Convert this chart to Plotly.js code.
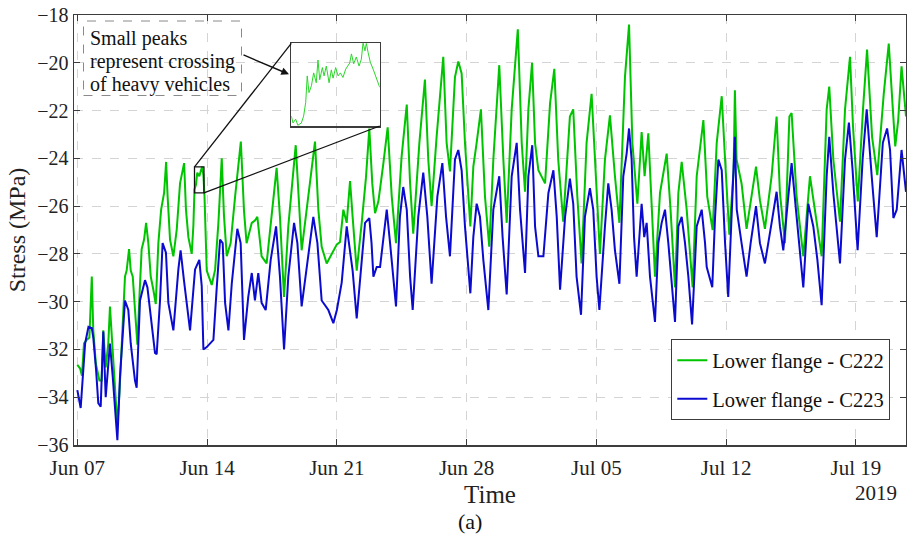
<!DOCTYPE html>
<html>
<head>
<meta charset="utf-8">
<script src="https://cdn.plot.ly/plotly-3.0.1.min.js"></script>
<style>
  html, body { margin: 0; padding: 0; background: #ffffff; }
  #chart { width: 907px; height: 536px; }
</style>
</head>
<body>
<div id="chart"></div>
<script>
// Time is stored as days elapsed since 2019-06-07 00:00.
const startDate = Date.UTC(2019, 5, 7);

// Lower flange - C222 (green)
const c222Day = [
  0.00, 0.15, 0.25, 0.36, 0.50, 0.65, 0.78, 0.86, 1.00, 1.19, 1.31, 1.40, 1.53, 1.67, 1.76, 1.91,
  2.03, 2.16, 2.27, 2.43, 2.57, 2.66, 2.79, 2.88, 2.99, 3.11, 3.24, 3.35, 3.47, 3.60, 3.71, 3.83,
  3.96, 4.10, 4.23, 4.37, 4.52, 4.68, 4.79, 4.87, 5.00, 5.18, 5.36, 5.54, 5.76, 5.86, 5.99, 6.17,
  6.26, 6.32, 6.40, 6.47, 6.58, 6.67, 6.73, 6.80, 6.86, 6.98, 7.25, 7.43, 7.61, 7.79, 7.91, 8.06,
  8.27, 8.51, 8.82, 8.99, 9.13, 9.41, 9.58, 9.71, 9.94, 10.21, 10.48, 10.75, 10.93, 11.15, 11.38, 11.78,
  11.96, 12.10, 12.37, 12.82, 13.00, 13.18, 13.45, 13.81, 14.00, 14.17, 14.35, 14.53, 14.71, 14.85, 15.07, 15.34,
  15.57, 15.75, 15.91, 16.06, 16.24, 16.51, 16.74, 16.96, 17.19, 17.49, 17.77, 17.95, 18.12, 18.45, 18.75, 18.93,
  19.11, 19.38, 19.74, 19.92, 20.10, 20.37, 20.55, 20.73, 20.91, 21.20, 21.36, 21.54, 21.77, 21.99, 22.22, 22.44,
  22.76, 22.98, 23.16, 23.43, 23.76, 23.97, 24.15, 24.33, 24.53, 24.69, 24.87, 25.23, 25.50, 25.73, 25.94, 26.21,
  26.57, 26.75, 26.97, 27.20, 27.47, 27.74, 27.92, 28.19, 28.46, 28.73, 29.00, 29.24, 29.54, 29.76, 29.94, 30.21,
  30.44, 30.60, 30.80, 30.98, 31.16, 31.43, 31.79, 32.00, 32.24, 32.42, 32.60, 32.87, 33.19, 33.41, 33.77, 33.98,
  34.27, 34.49, 34.76, 34.94, 35.17, 35.40, 35.47, 35.56, 35.83, 36.10, 36.37, 36.61, 36.82, 37.09, 37.45, 37.72,
  37.90, 38.17, 38.41, 38.53, 38.80, 39.16, 39.52, 39.79, 40.15, 40.42, 40.56, 40.78, 41.14, 41.41, 41.68, 41.84,
  42.10, 42.38, 42.60, 42.87, 43.15, 43.50, 43.77, 43.99, 44.12, 44.28, 44.46, 44.70
];
const c222Stress = [
  -32.65, -32.8, -33.1, -31.75, -31.6, -31.5, -28.95, -31.2, -32.6, -33.3, -33.3, -31.2, -32.75, -31.75, -30.2, -32.2,
  -33.85, -35.2, -33.85, -30.9, -28.95, -28.7, -27.8, -28.7, -28.95, -30.35, -31.8, -29.8, -27.8, -27.4, -26.7, -27.55,
  -28.95, -29.5, -30.1, -27.55, -26.15, -25.45, -24.15, -25.6, -27.4, -28.1, -27.0, -25.05, -24.2, -26.15, -27.3, -28.0,
  -26.8, -25.3, -25.1, -24.6, -24.75, -24.5, -24.35, -24.7, -25.6, -28.7, -29.3, -28.67, -26.7, -24.0, -26.4, -28.1,
  -27.55, -25.6, -23.3, -26.2, -27.55, -26.7, -26.6, -26.45, -28.1, -28.4, -26.45, -24.4, -26.45, -29.8, -26.85, -23.45,
  -25.9, -27.85, -26.15, -23.3, -26.15, -27.7, -28.4, -27.85, -27.6, -27.5, -26.15, -26.7, -24.95, -26.45, -28.7, -26.7,
  -24.8, -22.75, -25.05, -26.3, -25.8, -24.2, -22.7, -25.6, -27.55, -23.95, -21.75, -25.05, -27.15, -23.35, -20.7, -24.05,
  -26.0, -23.1, -19.75, -23.35, -24.55, -20.6, -19.95, -20.45, -23.35, -26.85, -24.35, -23.35, -21.95, -25.6, -27.7, -24.05,
  -20.1, -24.05, -26.7, -21.95, -18.6, -23.35, -25.4, -21.95, -20.0, -23.35, -24.5, -25.05, -21.7, -20.25, -24.05, -26.65,
  -22.25, -21.95, -25.6, -28.4, -23.35, -21.3, -24.05, -28.0, -24.05, -22.2, -24.75, -26.7, -20.6, -18.4, -23.35, -25.9,
  -22.9, -24.75, -22.95, -26.15, -28.95, -25.45, -23.8, -26.15, -29.4, -25.45, -24.15, -26.15, -29.4, -24.75, -22.4, -25.6,
  -27.0, -23.35, -21.4, -24.05, -27.2, -24.5, -21.15, -24.05, -25.05, -26.95, -25.6, -24.35, -25.75, -26.95, -24.75, -22.25,
  -25.45, -27.55, -22.25, -22.1, -25.6, -28.1, -24.75, -26.15, -28.1, -21.95, -21.0, -24.05, -26.65, -21.95, -19.75, -22.65,
  -25.8, -21.95, -19.45, -23.1, -24.7, -21.3, -19.2, -21.95, -23.5, -22.4, -20.15, -22.25
];

// Lower flange - C223 (blue)
const c223Day = [
  0.00, 0.18, 0.42, 0.60, 0.78, 0.86, 1.01, 1.13, 1.26, 1.40, 1.53, 1.76, 1.91, 2.03, 2.16, 2.30,
  2.57, 2.75, 2.88, 3.11, 3.20, 3.38, 3.65, 3.78, 3.96, 4.19, 4.28, 4.46, 4.60, 4.78, 4.91, 5.18,
  5.45, 5.57, 5.75, 6.08, 6.35, 6.58, 6.71, 6.80, 6.98, 7.34, 7.52, 7.70, 7.84, 7.97, 8.15, 8.33,
  8.63, 8.81, 8.99, 9.22, 9.41, 9.58, 9.76, 9.94, 10.16, 10.43, 10.72, 10.93, 11.15, 11.38, 11.69, 11.87,
  12.10, 12.37, 12.73, 12.95, 13.18, 13.54, 13.81, 14.00, 14.26, 14.53, 14.71, 14.85, 15.07, 15.28, 15.52, 15.75,
  15.87, 15.97, 16.15, 16.33, 16.51, 16.69, 16.87, 17.19, 17.40, 17.58, 17.77, 17.95, 18.09, 18.39, 18.66, 18.88,
  19.11, 19.42, 19.69, 19.89, 20.10, 20.37, 20.55, 20.73, 20.91, 21.20, 21.36, 21.54, 21.72, 21.90, 22.17, 22.44,
  22.76, 22.94, 23.16, 23.43, 23.70, 23.88, 24.15, 24.33, 24.54, 24.69, 24.87, 25.14, 25.41, 25.68, 25.86, 26.04,
  26.31, 26.57, 26.75, 26.93, 27.17, 27.38, 27.65, 27.83, 28.01, 28.16, 28.46, 28.64, 28.82, 29.00, 29.24, 29.45,
  29.63, 29.76, 29.90, 30.03, 30.17, 30.44, 30.58, 30.71, 30.89, 31.16, 31.34, 31.52, 31.70, 31.88, 32.24, 32.42,
  32.60, 32.78, 32.96, 33.16, 33.41, 33.68, 33.86, 33.95, 34.25, 34.40, 34.58, 34.76, 34.94, 35.11, 35.47, 35.57,
  35.83, 36.10, 36.32, 36.61, 36.82, 37.09, 37.45, 37.72, 37.90, 38.08, 38.35, 38.53, 38.80, 39.16, 39.43, 39.70,
  39.92, 40.15, 40.42, 40.56, 40.78, 41.14, 41.41, 41.62, 41.82, 42.09, 42.36, 42.58, 42.85, 43.12, 43.45, 43.68,
  43.84, 44.02, 44.20, 44.46, 44.70
];
const c223Stress = [
  -33.7, -34.45, -31.75, -31.05, -31.1, -31.5, -32.85, -34.25, -34.4, -31.25, -34.0, -31.75, -33.15, -34.55, -35.8, -33.15,
  -29.95, -30.35, -31.75, -33.3, -33.6, -29.95, -29.1, -29.4, -30.65, -32.15, -32.2, -29.95, -27.55, -27.95, -30.05, -31.2,
  -28.65, -27.85, -29.1, -31.2, -28.65, -28.25, -29.35, -32.0, -31.9, -31.6, -29.4, -27.4, -27.55, -30.05, -31.2, -29.25,
  -26.95, -27.55, -31.6, -29.8, -28.8, -29.95, -28.8, -30.05, -30.35, -28.25, -26.85, -28.95, -32.0, -28.95, -26.7, -27.55,
  -30.2, -28.55, -26.45, -27.55, -29.95, -30.35, -30.9, -30.35, -29.2, -26.85, -27.85, -28.7, -30.7, -28.95, -26.7, -26.5,
  -27.55, -28.95, -28.55, -28.55, -27.3, -26.15, -27.55, -30.2, -26.45, -25.2, -26.15, -28.95, -30.35, -26.45, -24.6, -26.45,
  -29.25, -25.6, -24.2, -26.45, -28.1, -24.05, -23.65, -24.5, -26.85, -29.65, -27.3, -25.9, -26.45, -28.25, -30.35, -26.15,
  -24.75, -27.3, -29.7, -24.75, -23.35, -26.15, -28.8, -24.75, -23.45, -26.85, -28.1, -28.1, -25.45, -24.5, -26.45, -29.5,
  -26.45, -24.85, -25.9, -28.95, -30.55, -26.45, -25.25, -26.15, -28.95, -30.35, -26.85, -25.05, -26.15, -27.85, -29.25, -24.75,
  -23.8, -22.75, -24.05, -27.3, -28.95, -25.9, -27.3, -26.7, -28.95, -30.85, -27.55, -26.7, -26.15, -27.55, -30.85, -26.85,
  -26.45, -27.55, -28.95, -30.95, -26.85, -26.15, -27.55, -28.55, -29.4, -26.45, -24.05, -24.5, -27.55, -29.8, -23.1, -26.15,
  -27.55, -28.95, -27.55, -26.0, -27.55, -28.4, -26.7, -25.4, -26.85, -27.85, -25.6, -24.2, -26.45, -29.4, -25.9, -26.85,
  -28.25, -30.15, -24.75, -23.1, -25.45, -28.4, -24.05, -22.5, -24.5, -27.85, -24.05, -21.95, -24.75, -27.3, -23.35, -22.75,
  -23.65, -26.5, -26.15, -23.65, -25.4
];

// Close-up of C222 around the afternoon of Jun 13 (small peaks from heavy vehicles)
const insetDay = [
  6.320, 6.330, 6.345, 6.358, 6.378, 6.391, 6.403, 6.412, 6.422, 6.436, 6.449, 6.464, 6.474, 6.484, 6.499, 6.509,
  6.522, 6.538, 6.551, 6.561, 6.576, 6.590, 6.603, 6.618, 6.634, 6.647, 6.657, 6.667, 6.680, 6.695, 6.711, 6.724,
  6.734, 6.745, 6.753, 6.763, 6.776, 6.792, 6.811, 6.830
];
const insetStress = [
  -25.32, -25.41, -25.36, -25.44, -25.41, -25.32, -25.14, -24.79, -25.01, -24.92, -24.75, -24.88, -24.58, -24.84, -24.68, -24.79,
  -24.66, -24.88, -24.71, -24.82, -24.68, -24.79, -24.75, -24.81, -24.70, -24.66, -24.62, -24.50, -24.63, -24.54, -24.66, -24.57,
  -24.35, -24.46, -24.36, -24.48, -24.61, -24.70, -24.81, -24.94
];

// Zoom window on the main axes: [start day, end day] and [low, high] stress
const zoomDays = [6.32, 6.83];
const zoomStress = [-25.45, -24.36];

// Axis ticks
const tickDays = [0, 7, 14, 21, 28, 35, 42];
const tickText = ['Jun 07', 'Jun 14', 'Jun 21', 'Jun 28', 'Jul 05', 'Jul 12', 'Jul 19'];
const stressTicks = [-36, -34, -32, -30, -28, -26, -24, -22, -20, -18];
const xRangeDays = [-0.18, 44.70];
const yRange = [-36, -18];

function toDate(d) {
  const t = new Date(startDate + d * 86400000);
  return t.toISOString().slice(0, 19).replace('T', ' ');
}

const FONT = '"Liberation Serif", "Times New Roman", serif';
const GREEN = '#00c400';
const BLUE = '#0b0bd0';
const FRAME = '#3c3c3c';

const traces = [
  {
    type: 'scatter', mode: 'lines', name: 'Lower flange - C222',
    x: c222Day.map(toDate), y: c222Stress,
    line: { color: GREEN, width: 2 }, legendgroup: 'a'
  },
  {
    type: 'scatter', mode: 'lines', name: 'Lower flange - C223',
    x: c223Day.map(toDate), y: c223Stress,
    line: { color: BLUE, width: 2 }, legendgroup: 'b'
  },
  {
    type: 'scatter', mode: 'lines', name: 'close-up',
    x: insetDay.map(toDate), y: insetStress,
    xaxis: 'x2', yaxis: 'y2', showlegend: false,
    line: { color: '#2bd62b', width: 1 }
  }
];

// Plot-area geometry (pixels) used to place paper-referenced decorations
const W = 907, H = 536;
const M = { l: 74, r: 1, t: 15, b: 91 };
const pw = W - M.l - M.r, ph = H - M.t - M.b;
const px = X => (X - M.l) / pw;
const py = Y => (H - M.b - Y) / ph;
const dayToPaper = d => (d - xRangeDays[0]) / (xRangeDays[1] - xRangeDays[0]);
const valToPaper = v => (v - yRange[0]) / (yRange[1] - yRange[0]);

const inset = { x0: px(291.3), x1: px(379.7), y0: py(126), y1: py(43.3) };

const shapes = [
  // dashed frame of the note
  { type: 'rect', xref: 'paper', yref: 'paper', x0: px(83.5), x1: px(241.5), y0: py(95.5), y1: py(21),
    line: { color: '#8a8a8a', width: 1, dash: 'dash' }, fillcolor: 'rgba(255,255,255,0)' },
  // white card under the close-up
  { type: 'rect', xref: 'paper', yref: 'paper', x0: inset.x0, x1: inset.x1, y0: inset.y0, y1: inset.y1,
    line: { width: 0 }, fillcolor: '#ffffff', layer: 'below' },
  // window on the main curve
  { type: 'rect', xref: 'x', yref: 'y', x0: toDate(zoomDays[0]), x1: toDate(zoomDays[1]),
    y0: zoomStress[0], y1: zoomStress[1], line: { color: '#111', width: 1.3 } },
  // connectors between window and close-up
  { type: 'line', xref: 'paper', yref: 'paper',
    x0: dayToPaper(zoomDays[0]), y0: valToPaper(zoomStress[1]), x1: inset.x0, y1: inset.y1,
    line: { color: '#111', width: 1.3 } },
  { type: 'line', xref: 'paper', yref: 'paper',
    x0: dayToPaper(zoomDays[1]), y0: valToPaper(zoomStress[0]), x1: inset.x1, y1: inset.y0,
    line: { color: '#111', width: 1.3 } }
];

const noteFont = { family: FONT, size: 20, color: '#111' };
const annotations = [
  { xref: 'paper', yref: 'paper', x: px(88), y: py(38), xanchor: 'left', yanchor: 'middle',
    text: 'Small peaks', showarrow: false, font: noteFont },
  { xref: 'paper', yref: 'paper', x: px(88), y: py(61.5), xanchor: 'left', yanchor: 'middle',
    text: 'represent crossing', showarrow: false, font: noteFont },
  { xref: 'paper', yref: 'paper', x: px(88), y: py(85), xanchor: 'left', yanchor: 'middle',
    text: 'of heavy vehicles', showarrow: false, font: noteFont },
  // arrow from the note to the close-up
  { xref: 'paper', yref: 'paper', x: px(289), y: py(74.3), ax: -47, ay: -20,
    text: '', showarrow: true, arrowhead: 2, arrowsize: 1.1, arrowwidth: 1.4, arrowcolor: '#111', standoff: 0 },
  { xref: 'paper', yref: 'paper', x: px(876), y: py(493), xanchor: 'center', yanchor: 'middle',
    text: '2019', showarrow: false, font: { family: FONT, size: 21, color: '#222' } },
  { xref: 'paper', yref: 'paper', x: px(470), y: py(521), xanchor: 'center', yanchor: 'middle',
    text: '(a)', showarrow: false, font: { family: FONT, size: 22, color: '#111' } }
];

const layout = {
  width: W, height: H,
  margin: M,
  paper_bgcolor: '#ffffff',
  plot_bgcolor: 'rgba(0,0,0,0)',
  font: { family: FONT, size: 21, color: '#222' },
  showlegend: true,
  legend: {
    x: px(671), y: py(339), xanchor: 'left', yanchor: 'top',
    bgcolor: '#ffffff', bordercolor: FRAME, borderwidth: 1.3,
    font: { family: FONT, size: 20.5, color: '#111' },
    traceorder: 'grouped', tracegroupgap: 9, itemwidth: 30
  },
  xaxis: {
    type: 'date',
    range: xRangeDays.map(toDate),
    tickvals: tickDays.map(toDate), ticktext: tickText,
    ticks: 'inside', ticklen: 6, tickcolor: FRAME, tickwidth: 1,
    showline: true, linecolor: FRAME, linewidth: 1.5, mirror: 'ticks',
    showgrid: true, gridcolor: '#d4d4d4', griddash: 'dash', gridwidth: 1,
    zeroline: false, ticklabelstandoff: 3,
    tickfont: { family: FONT, size: 21, color: '#222' },
    title: { text: 'Time', font: { family: FONT, size: 25, color: '#222' }, standoff: 7 }
  },
  yaxis: {
    range: yRange, tickvals: stressTicks,
    ticks: 'inside', ticklen: 6, tickcolor: FRAME, tickwidth: 1,
    showline: true, linecolor: FRAME, linewidth: 1.5, mirror: 'ticks',
    showgrid: true, gridcolor: '#d4d4d4', griddash: 'dash', gridwidth: 1,
    zeroline: false,
    tickfont: { family: FONT, size: 20, color: '#222' },
    title: { text: 'Stress (MPa)', font: { family: FONT, size: 24, color: '#222' }, standoff: 5 }
  },
  xaxis2: {
    type: 'date', domain: [inset.x0, inset.x1], anchor: 'y2',
    range: zoomDays.map(toDate),
    showticklabels: false, ticks: '', showgrid: false, zeroline: false,
    showline: true, linecolor: FRAME, linewidth: 1.5, mirror: true
  },
  yaxis2: {
    domain: [inset.y0, inset.y1], anchor: 'x2',
    range: zoomStress,
    showticklabels: false, ticks: '', showgrid: false, zeroline: false,
    showline: true, linecolor: FRAME, linewidth: 1.5, mirror: true
  },
  shapes: shapes,
  annotations: annotations
};

Plotly.newPlot('chart', traces, layout, { displayModeBar: false, staticPlot: true });
</script>
</body>
</html>
